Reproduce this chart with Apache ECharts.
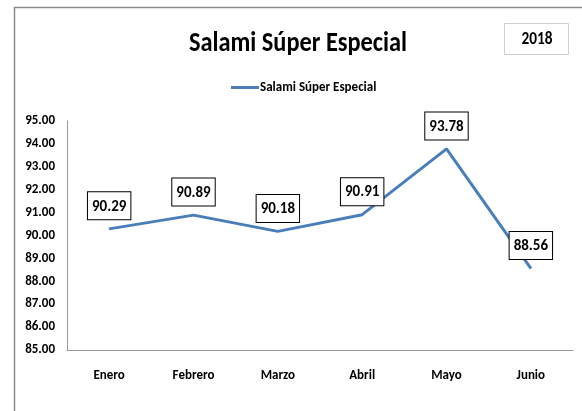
<!DOCTYPE html>
<html>
<head>
<meta charset="utf-8">
<script src="https://cdn.jsdelivr.net/npm/echarts@6/dist/echarts.min.js"></script>
<style>
    html, body { margin: 0; padding: 0; background: #fff; }
    #chart { width: 582px; height: 411px; }
</style>
</head>
<body>
<div id="chart"></div>
<script>
const months = ["Enero", "Febrero", "Marzo", "Abril", "Mayo", "Junio"];
const salamiValues = [90.29, 90.89, 90.18, 90.91, 93.78, 88.56];
const chartTitle = "Salami Súper Especial";
const yearLabel = "2018";

const fontName = "Carlito, Lato, sans-serif";

const chart = echarts.init(document.getElementById("chart"));

chart.setOption({
    animation: false,
    legend: {
        top: 76,
        left: 226,
        itemWidth: 28,
        itemHeight: 3,
        itemGap: 2,
        icon: "rect",
        textStyle: {
            fontFamily: fontName,
            fontWeight: "bold",
            fontSize: 13,
            color: "#000",
            padding: [0, 0, 0, -4]
        },
        data: [chartTitle]
    },
    grid: {
        left: 67,
        right: 9,
        top: 121,
        bottom: 61
    },
    xAxis: {
        type: "category",
        data: months,
        boundaryGap: true,
        axisLine: { lineStyle: { color: "#999", width: 1 } },
        axisTick: { show: false },
        axisLabel: {
            margin: 19,
            fontFamily: fontName,
            fontWeight: "bold",
            fontSize: 13,
            color: "#000"
        }
    },
    yAxis: {
        type: "value",
        min: 85,
        max: 95,
        interval: 1,
        axisLine: { show: true, lineStyle: { color: "#999", width: 1 } },
        axisTick: { show: false },
        splitLine: { show: false },
        axisLabel: {
            margin: 12,
            fontFamily: fontName,
            fontWeight: "bold",
            fontSize: 13,
            color: "#000",
            formatter: v => v.toFixed(2)
        }
    },
    series: [
        {
            name: chartTitle,
            type: "line",
            data: salamiValues,
            showSymbol: true,
            symbol: "circle",
            symbolSize: 1,
            lineStyle: { color: "#4a7ebb", width: 3 },
            itemStyle: { color: "#4a7ebb" },
            label: {
                show: true,
                position: "top",
                distance: 9,
                formatter: p => p.value.toFixed(2),
                fontFamily: fontName,
                fontWeight: "bold",
                fontSize: 15,
                color: "#000",
                backgroundColor: "#fff",
                borderColor: "#000",
                borderWidth: 1,
                padding: [7, 4, 5, 4]
            }
        }
    ],
    graphic: [
        {
            type: "rect",
            shape: { x: 14.5, y: 7.5, width: 700, height: 600 },
            style: { fill: null, stroke: "#8c8c8c", lineWidth: 1.5 },
            silent: true
        },
        {
            type: "text",
            x: 298,
            y: 44,
            scaleX: 0.87,
            style: {
                text: chartTitle,
                fontFamily: fontName,
                fontWeight: "bold",
                fontSize: 28,
                fill: "#000",
                align: "center",
                verticalAlign: "middle"
            }
        },
        {
            type: "rect",
            shape: { x: 504.5, y: 23.5, width: 64, height: 31 },
            style: { fill: "#fff", stroke: "#cfcfcf", lineWidth: 1 },
            silent: true
        },
        {
            type: "text",
            x: 537,
            y: 40,
            scaleX: 0.9,
            style: {
                text: yearLabel,
                fontFamily: fontName,
                fontWeight: "bold",
                fontSize: 17,
                fill: "#000",
                align: "center",
                verticalAlign: "middle"
            }
        }
    ]
});
</script>
</body>
</html>
